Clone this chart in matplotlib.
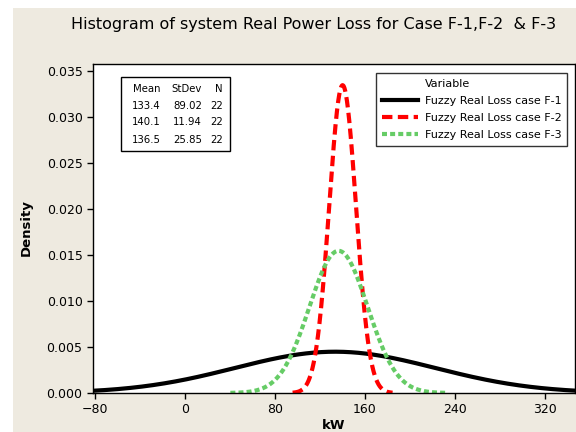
import numpy as np
import matplotlib
matplotlib.use("Agg")
from matplotlib import pyplot as plt
from matplotlib.patches import Rectangle
from matplotlib.lines import Line2D

# summary statistics shown in the chart (normal fits)
labels = ["Fuzzy Real Loss case F-1", "Fuzzy Real Loss case F-2", "Fuzzy Real Loss case F-3"]
means = [133.4, 140.1, 136.5]
stdevs = [89.02, 11.94, 25.85]
counts = [22, 22, 22]

xticks = [-80, 0, 80, 160, 240, 320]
yticks = [0.000, 0.005, 0.010, 0.015, 0.020, 0.025, 0.030, 0.035]

colors = ["black", "#ff0000", "#66cc66"]
styles = ["-", (0, (2.5, 1.3)), (0, (1.2, 0.75))]

fig = plt.figure(figsize=(5.76, 4.32), dpi=100, facecolor="white")
fig.patches.append(Rectangle((13 / 576, 0), 1, (432 - 8) / 432, transform=fig.transFigure,
                             facecolor="#eeeae0", edgecolor="none", zorder=-10))

ax = fig.add_axes([93 / 576, 1 - 393 / 432, (575 - 93) / 576, (393 - 64) / 432])

handles = [Line2D([], [], color="none")]
for m, s, c, ls, lab in zip(means, stdevs, colors, styles, labels):
    x = np.linspace(m - 3.72 * s, m + 3.72 * s, 400)
    y = np.exp(-0.5 * ((x - m) / s) ** 2) / (s * np.sqrt(2 * np.pi))
    ln, = ax.plot(x, y, color=c, ls=ls, lw=3, label=lab)
    handles.append(ln)

ax.set_xlim(-81.8, 346.7)
ax.set_ylim(0, 0.03571)
ax.set_xticks(xticks)
ax.set_yticks(yticks)
ax.set_yticklabels(["%.3f" % t for t in yticks])
ax.tick_params(labelsize=9, length=4, width=1, direction="out")
for sp in ax.spines.values():
    sp.set_linewidth(1)

fig.text(314 / 576, 1 - 24 / 432, "Histogram of system Real Power Loss for Case F-1,F-2  & F-3",
         ha="center", va="center", fontsize=11.5)
fig.text(26 / 576, 1 - 228 / 432, "Density", rotation=90, ha="center", va="center",
         fontsize=9.5, fontweight="bold")
fig.text(334 / 576, 1 - 419 / 432, "kW", ha="center", va="top", fontsize=9.5, fontweight="bold")

# stats box
ax.add_patch(Rectangle((121 / 576, 1 - 151 / 432), (230 - 121) / 576, (151 - 77) / 432,
                       transform=fig.transFigure, facecolor="white", edgecolor="black",
                       lw=1, zorder=5, clip_on=False))
colx = [161, 202, 223]
rows = [["Mean", "StDev", "N"]] + [["%.1f" % m, "%.2f" % s, str(n)] for m, s, n in zip(means, stdevs, counts)]
rowy = [89, 106, 122, 140]
for r, yy in zip(rows, rowy):
    for txt, xx in zip(r, colx):
        fig.text(xx / 576, 1 - yy / 432, txt, ha="right", va="center", fontsize=7.3, zorder=6)

leg = ax.legend(handles, ["Variable"] + labels, loc="upper left",
                bbox_to_anchor=((376 - 93) / (575 - 93), (393 - 73) / (393 - 64)),
                fontsize=8, frameon=True, fancybox=False,
                edgecolor="black", handlelength=3.3, handletextpad=0.6, borderpad=0.5,
                labelspacing=0.65, borderaxespad=0)
leg.get_frame().set_linewidth(1)

fig.savefig("out.png", dpi=100, facecolor=fig.get_facecolor())
